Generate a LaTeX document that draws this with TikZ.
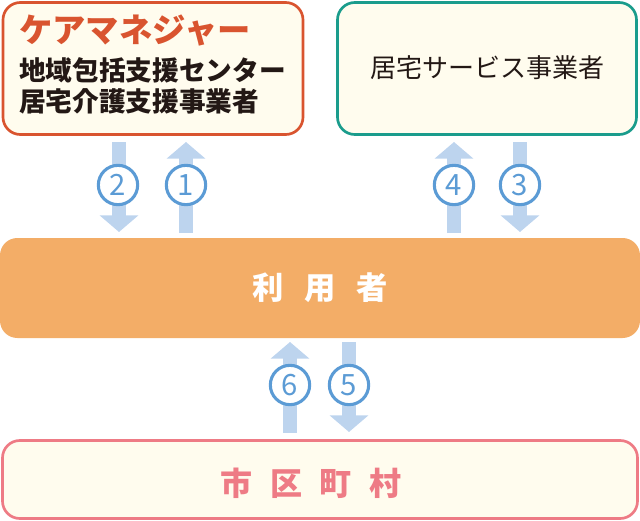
\documentclass[tikz,border=0pt]{standalone}
\usepackage{fontspec}
\newfontfamily\jp{Noto Sans CJK JP}
\usetikzlibrary{arrows.meta}
\definecolor{cream}{HTML}{FFFCEE}
\definecolor{cmred}{HTML}{D9542F}
\definecolor{teal}{HTML}{1A9C8C}
\definecolor{userorange}{HTML}{F3AD67}
\definecolor{cityPink}{HTML}{EE7B85}
\definecolor{arrowblue}{HTML}{BDD4EE}
\definecolor{circleblue}{HTML}{5B9BD5}
\definecolor{txt}{HTML}{231815}
\tikzset{
  box/.style={rounded corners=13pt, line width=2pt, fill=cream, inner sep=0pt},
  flow/.style={draw=arrowblue, line width=10.5pt, -{Triangle[width=28.5pt,length=12.5pt]}, arrowblue},
  num/.style={circle, draw=circleblue, line width=2.3pt, fill=white, minimum size=29.5pt, inner sep=0pt,
    text=circleblue, font=\jp\fontsize{22}{22}\selectfont},
}
\begin{document}
\begin{tikzpicture}[x=0.75pt,y=-0.75pt]
\useasboundingbox (0,0) rectangle (640,521);
% boxes
\node[box, draw=cmred, minimum width=300*0.75pt, minimum height=132*0.75pt] (cm) at (153,68.5) {};
\node[box, draw=teal, minimum width=299*0.75pt, minimum height=132*0.75pt] (svc) at (487,68.5) {};
\node[rounded corners=13pt, fill=userorange, minimum width=640*0.75pt, minimum height=100*0.75pt, inner sep=0pt] (user) at (320,288) {};
\node[box, draw=cityPink, minimum width=635*0.75pt, minimum height=78*0.75pt] (city) at (320,479.5) {};
% texts
\node[anchor=west, inner sep=0pt, text=cmred, font=\jp\bfseries\fontsize{25}{25}\selectfont] (cmt) at (19,31) {ケアマネジャー};
\node[anchor=north west, inner sep=0pt, align=left, text=txt, font=\jp\bfseries\fontsize{20}{23.5}\selectfont] (cmt2) at (19,57) {地域包括支援センター\\居宅介護支援事業者};
\node[inner sep=0pt, text=txt, font=\jp\fontsize{19.5}{19.5}\selectfont] (svct) at (487,68) {居宅サービス事業者};
\node[inner sep=0pt, text=white, font=\jp\bfseries\fontsize{23.5}{23.5}\selectfont] (usert) at (320,288) {利\hspace{0.65em}用\hspace{0.65em}者};
\node[inner sep=0pt, text=cityPink, font=\jp\bfseries\fontsize{24}{24}\selectfont] (cityt) at (311,483) {市\hspace{0.55em}区\hspace{0.55em}町\hspace{0.55em}村};
% arrow coordinates
\coordinate (a2s) at (119,142); \coordinate (a2e) at (119,232);
\coordinate (a1s) at (186,233); \coordinate (a1e) at (186,142);
\coordinate (a4s) at (454,233); \coordinate (a4e) at (454,142);
\coordinate (a3s) at (520,142); \coordinate (a3e) at (520,232);
\coordinate (a6s) at (290,433); \coordinate (a6e) at (290,342);
\coordinate (a5s) at (349,342); \coordinate (a5e) at (349,432);
\draw[flow] (a2s) -- (a2e);
\draw[flow] (a1s) -- (a1e);
\draw[flow] (a4s) -- (a4e);
\draw[flow] (a3s) -- (a3e);
\draw[flow] (a6s) -- (a6e);
\draw[flow] (a5s) -- (a5e);
% numbers
\node[num] (n2) at (118,185) {2};
\node[num] (n1) at (186,185) {1};
\node[num] (n4) at (454,185) {4};
\node[num] (n3) at (520,185) {3};
\node[num] (n6) at (290,385) {6};
\node[num] (n5) at (349,385) {5};
\end{tikzpicture}
\end{document}
